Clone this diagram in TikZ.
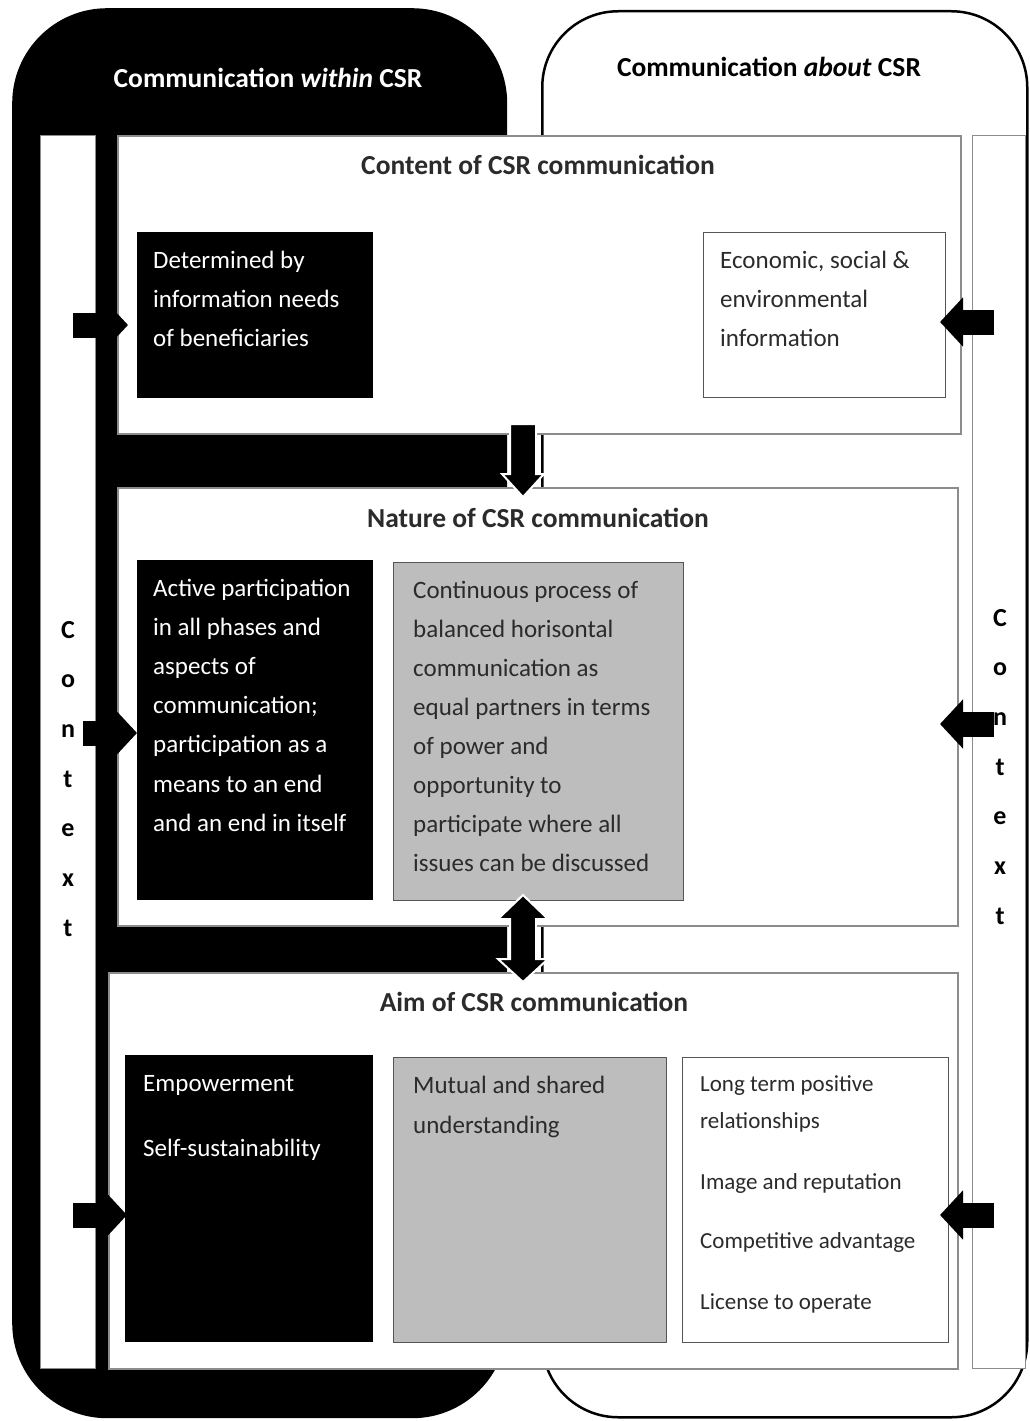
\documentclass[tikz,border=0pt]{standalone}
\usepackage{fontspec}
\setmainfont{Carlito}
\usetikzlibrary{arrows.meta}

\definecolor{panelrule}{HTML}{8C8C8C}
\definecolor{boxgray}{HTML}{BDBDBD}
\definecolor{boxrule}{HTML}{555555}
\definecolor{inktext}{HTML}{2B2B2B}

% a top-aligned block of lines: width, font size, line distance, text
\newcommand{\textblock}[4]{\parbox[t]{#1}{\fontsize{#2}{#3}\selectfont\raggedright #4}}
% vertical letter column for the context strips
\newcommand{\letterstack}[1]{\parbox[t]{30pt}{\centering\fontsize{26}{49.7}\selectfont\bfseries #1}}

\begin{document}
\begin{tikzpicture}[x=1pt, y=-1pt,
  frame/.style={inner sep=0pt, anchor=north west},
  panel/.style={frame, draw=panelrule, line width=1.5pt, fill=white},
  darkbox/.style={frame, fill=black},
  greybox/.style={frame, fill=boxgray, draw=boxrule, line width=1pt},
  plainbox/.style={frame, fill=white, draw=boxrule, line width=1pt},
  lines/.style={anchor=base west, inner sep=0pt},
  headline/.style={anchor=base, inner sep=0pt, font=\fontsize{27.5}{33}\selectfont\bfseries},
  ctxarrow/.style={line width=25pt, -{Triangle[width=48pt,length=23pt]}},
  flowarrow/.style={fill=black, draw=white, line width=2pt, line join=miter},
]
\useasboundingbox (0,0) rectangle (1029,1421);

% the two overlapping frames
\node[frame, draw=black, line width=2.5pt, fill=white, rounded corners=76pt,
      minimum width=485pt, minimum height=1406pt] (about) at (541,10) {};
\node[frame, fill=black, rounded corners=95pt,
      minimum width=495pt, minimum height=1410pt] (within) at (12,8) {};

\node[headline, text=white] (withintitle) at (268,88) {Communication \textit{within} CSR};
\node[headline, text=black] (abouttitle) at (769,77) {Communication \textit{about} CSR};

% context strips
\node[frame, fill=white, draw=panelrule, line width=1pt,
      minimum width=55pt, minimum height=1233pt] (lstrip) at (40,135) {};
\node[frame, fill=white, draw=panelrule, line width=1pt,
      minimum width=53pt, minimum height=1233pt] (rstrip) at (972,135) {};
\node[anchor=base, inner sep=0pt] (lword) at (68,638) {\letterstack{C\\o\\n\\t\\e\\x\\t}};
\node[anchor=base, inner sep=0pt] (rword) at (1000,626) {\letterstack{C\\o\\n\\t\\e\\x\\t}};

% three panels
\node[panel, minimum width=843pt, minimum height=298pt] (topP) at (117,135) {};
\node[panel, minimum width=840pt, minimum height=438pt] (midP) at (117,487) {};
\node[panel, minimum width=849pt, minimum height=396pt] (botP) at (108,972) {};

\node[headline, text=inktext] (toptitle) at (538,174) {Content of CSR communication};
\node[headline, text=inktext] (midtitle) at (538,527) {Nature of CSR communication};
\node[headline, text=inktext] (bottitle) at (534,1011) {Aim of CSR communication};

% content
\node[darkbox, minimum width=236pt, minimum height=166pt] (dbox) at (137,232) {};
\node[lines, text=white] (dtext) at ([shift={(16,36)}]dbox.north west)
  {\textblock{220pt}{25}{39}{Determined by\\information needs\\of beneficiaries}};
\node[plainbox, minimum width=242pt, minimum height=165pt] (ebox) at (703,232) {};
\node[lines, text=inktext] (etext) at ([shift={(17,36)}]ebox.north west)
  {\textblock{225pt}{25}{39}{Economic, social \&\\environmental\\information}};

% nature
\node[darkbox, minimum width=236pt, minimum height=340pt] (abox) at (137,560) {};
\node[lines, text=white] (atext) at ([shift={(16,36)}]abox.north west)
  {\textblock{220pt}{25}{39.2}{Active participation\\in all phases and\\aspects of\\communication;\\participation as a\\means to an end\\and an end in itself}};
\node[greybox, minimum width=290pt, minimum height=338pt] (cbox) at (393,562) {};
\node[lines, text=inktext] (ctext) at ([shift={(20,36)}]cbox.north west)
  {\textblock{268pt}{25}{39.1}{Continuous process of\\balanced horisontal\\communication as\\equal partners in terms\\of power and\\opportunity to\\participate where all\\issues can be discussed}};

% aim
\node[darkbox, minimum width=248pt, minimum height=287pt] (empbox) at (125,1055) {};
\node[lines, text=white] (emptext) at ([shift={(18,36)}]empbox.north west)
  {\textblock{228pt}{25}{39}{Empowerment\\[26pt]Self-sustainability}};
\node[greybox, minimum width=273pt, minimum height=285pt] (mutbox) at (393,1057) {};
\node[lines, text=inktext] (muttext) at ([shift={(20,36)}]mutbox.north west)
  {\textblock{250pt}{25}{40}{Mutual and shared\\understanding}};
\node[plainbox, minimum width=266pt, minimum height=285pt] (ltbox) at (682,1057) {};
\node[lines, text=inktext] (lttext) at ([shift={(18,34)}]ltbox.north west)
  {\textblock{245pt}{23}{37}{Long term positive\\relationships\\[24pt]Image and reputation\\[22pt]Competitive advantage\\[24pt]License to operate}};

% context arrows from the left strip
\coordinate (lc1) at (73,325);   \coordinate (lt1) at (128,325);
\coordinate (lc2) at (83,733);   \coordinate (lt2) at (137,733);
\coordinate (lc3) at (73,1215);  \coordinate (lt3) at (127,1215);
\draw[ctxarrow] (lc1) -- (lt1);
\draw[ctxarrow] (lc2) -- (lt2);
\draw[ctxarrow] (lc3) -- (lt3);

% context arrows from the right strip
\coordinate (rc1) at (994,322);   \coordinate (rt1) at (940,322);
\coordinate (rc2) at (994,724);   \coordinate (rt2) at (940,724);
\coordinate (rc3) at (994,1215);  \coordinate (rt3) at (940,1215);
\draw[ctxarrow] (rc1) -- (rt1);
\draw[ctxarrow] (rc2) -- (rt2);
\draw[ctxarrow] (rc3) -- (rt3);

% content -> nature
\draw[flowarrow] (510,424) -- (536,424) -- (536,474) -- (544,474) -- (523,497)
  -- (502,474) -- (510,474) -- cycle;
% nature <-> aim
\draw[flowarrow] (523,895) -- (548,919) -- (536,919) -- (536,959) -- (548,959)
  -- (523,982) -- (498,959) -- (510,959) -- (510,919) -- (498,919) -- cycle;

\end{tikzpicture}
\end{document}
